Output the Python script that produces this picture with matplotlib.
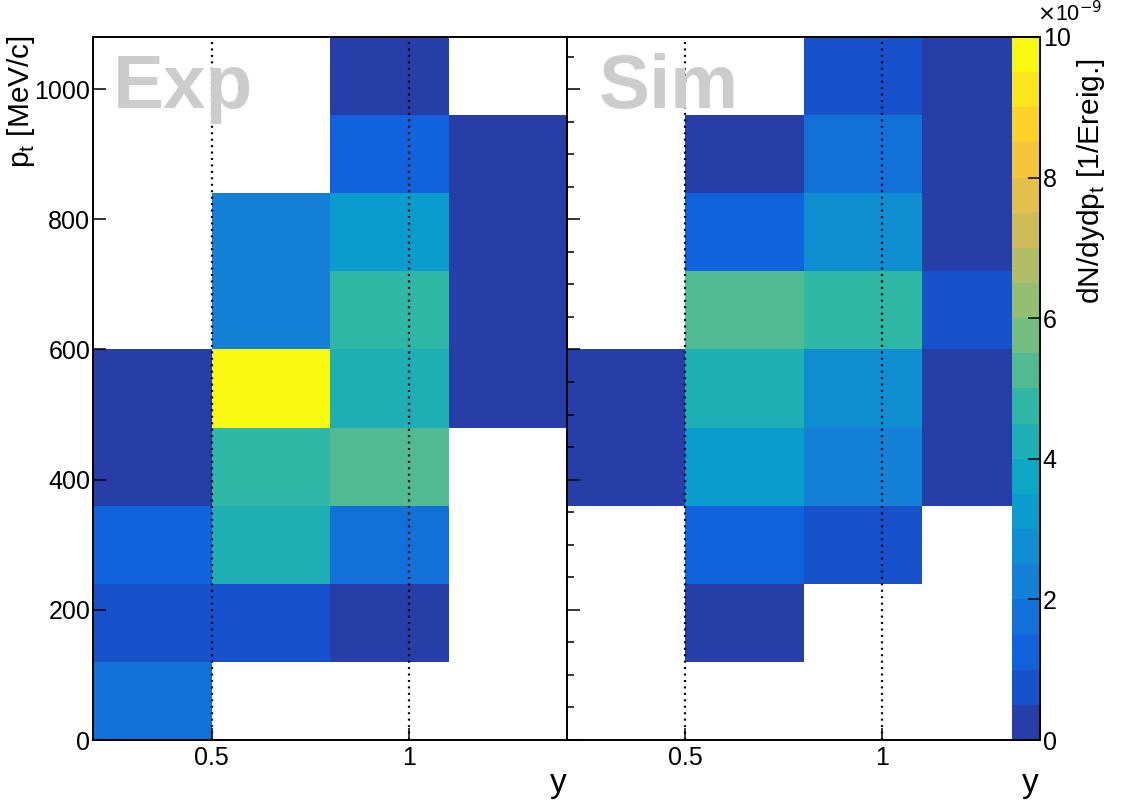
import numpy as np
import matplotlib
matplotlib.use("Agg")
import matplotlib.pyplot as plt
from matplotlib.colors import ListedColormap, BoundaryNorm
from matplotlib.ticker import MultipleLocator

plt.rcParams['font.family'] = ['Liberation Sans', 'DejaVu Sans']

# ---------------- data ----------------
y_edges = [0.2, 0.5, 0.8, 1.1, 1.4]
pt_edges = [0, 120, 240, 360, 480, 600, 720, 840, 960, 1080]
nan = np.nan
# values in units of 1e-9 ; rows = pt bins (low -> high), cols = y bins
exp_vals = [
    [1.75, nan,  nan,  nan],
    [0.75, 0.75, 0.3,  nan],
    [1.25, 4.25, 1.75, nan],
    [0.3,  4.75, 5.25, nan],
    [0.3,  9.9,  4.25, 0.3],
    [nan,  2.25, 4.75, 0.3],
    [nan,  2.25, 3.25, 0.3],
    [nan,  nan,  1.25, 0.3],
    [nan,  nan,  0.3,  nan],
]
sim_vals = [
    [nan, nan,  nan,  nan],
    [nan, 0.3,  nan,  nan],
    [nan, 1.25, 0.75, nan],
    [0.3, 3.25, 2.25, 0.3],
    [0.3, 4.25, 2.75, 0.3],
    [nan, 5.25, 4.75, 0.75],
    [nan, 1.25, 2.75, 0.3],
    [nan, 0.3,  1.75, 0.3],
    [nan, nan,  0.75, 0.3],
]
x_ticks = [0.5, 1.0]
x_ticklabels = ['0.5', '1']
pt_ticks = [0, 200, 400, 600, 800, 1000]
cb_ticks = [0, 2, 4, 6, 8, 10]
panel_names = ['Exp', 'Sim']

# ---------------- palette (ROOT kBird, 20 contours) ----------------
st = np.linspace(0, 1, 9)
rr = [0.2082, 0.0592, 0.0780, 0.0232, 0.1802, 0.5301, 0.8186, 0.9956, 0.9764]
gg = [0.1664, 0.3599, 0.5041, 0.6419, 0.7178, 0.7492, 0.7328, 0.7862, 0.9832]
bb = [0.5293, 0.8684, 0.8385, 0.7914, 0.6425, 0.4662, 0.3499, 0.1968, 0.0539]
ncont = 20
cols = []
for i in range(ncont):
    f = int((i + 0.99) * 255 / ncont) / 255.0
    cols.append((np.interp(f, st, rr), np.interp(f, st, gg), np.interp(f, st, bb)))
cmap = ListedColormap(cols)
levels = np.linspace(0, 10, ncont + 1)
norm = BoundaryNorm(levels, cmap.N)

# ---------------- figure ----------------
W, H = 1121, 805
fig = plt.figure(figsize=(W / 100, H / 100), dpi=100)

def fx(px):
    return px / W

def fy(py):
    return (H - py) / H

top, bot = 37, 740
ax1 = fig.add_axes([fx(93), fy(bot), fx(567 - 93), (bot - top) / H])
ax2 = fig.add_axes([fx(567), fy(bot), fx(1040 - 567), (bot - top) / H])
cax = fig.add_axes([fx(1012), fy(bot), fx(1040 - 1012), (bot - top) / H])

tick_kw = dict(direction='in', width=1.1, color='black')
mesh = None
for ax, vals in zip([ax1, ax2], [exp_vals, sim_vals]):
    mesh = ax.pcolormesh(y_edges, pt_edges, np.ma.masked_invalid(np.array(vals)),
                         cmap=cmap, norm=norm, antialiased=False, zorder=1)
    ax.set_xlim(0.2, 1.4)
    ax.set_ylim(0, 1080)
    for xv in x_ticks:
        ax.axvline(xv, color='black', lw=1.6, ls=(0, (0.9, 2.0)), zorder=3)
    ax.set_xticks(x_ticks)
    ax.set_xticklabels(x_ticklabels)
    ax.set_yticks(pt_ticks)
    ax.tick_params(axis='x', which='major', length=8.6, labelsize=18, pad=4,
                   top=False, **tick_kw)
    ax.tick_params(axis='y', which='major', length=9.4, labelsize=18, pad=2,
                   right=False, **tick_kw)
    for sp in ax.spines.values():
        sp.set_linewidth(1.4)
        sp.set_zorder(5)

ax2.yaxis.set_minor_locator(MultipleLocator(50))
ax2.tick_params(axis='y', which='minor', length=5, right=False, **tick_kw)
ax2.tick_params(axis='y', which='major', labelleft=False)

# colorbar
cb = fig.colorbar(mesh, cax=cax, ticks=cb_ticks)
cb.outline.set_visible(False)
cax.tick_params(axis='y', direction='in', length=8.6, width=1.1, labelsize=18, pad=2)
cax.set_yticklabels([str(t) for t in cb_ticks])
cax.minorticks_off()
cax.plot([1, 1], [0, 1], transform=cax.transAxes, color='black', lw=1.4, clip_on=False)
cax.plot([0, 1], [1, 1], transform=cax.transAxes, color='black', lw=1.4, clip_on=False)
cax.plot([0, 1], [0, 0], transform=cax.transAxes, color='black', lw=1.4, clip_on=False)

fig.text(fx(1037), fy(26), r'$\times$10$^{-9}$', fontsize=15.5, ha='left', va='bottom')
fig.text(fx(1091), fy(58), r'dN/dydp$_\mathregular{t}$ [1/Ereig.]', fontsize=21.5,
         rotation=90, ha='center', va='top')

# axis titles
fig.text(fx(21), fy(35), r'p$_\mathregular{t}$ [MeV/c]', fontsize=21.5, rotation=90,
         ha='center', va='top')
fig.text(fx(567), fy(792), 'y', fontsize=24, ha='right', va='baseline')
fig.text(fx(1039), fy(792), 'y', fontsize=24, ha='right', va='baseline')

# panel names
fig.text(fx(113), fy(108), panel_names[0], fontsize=55, fontweight='bold',
         color='#cccccc', ha='left', va='baseline')
fig.text(fx(599), fy(108), panel_names[1], fontsize=55, fontweight='bold',
         color='#cccccc', ha='left', va='baseline')

fig.savefig('out.png', dpi=100)
